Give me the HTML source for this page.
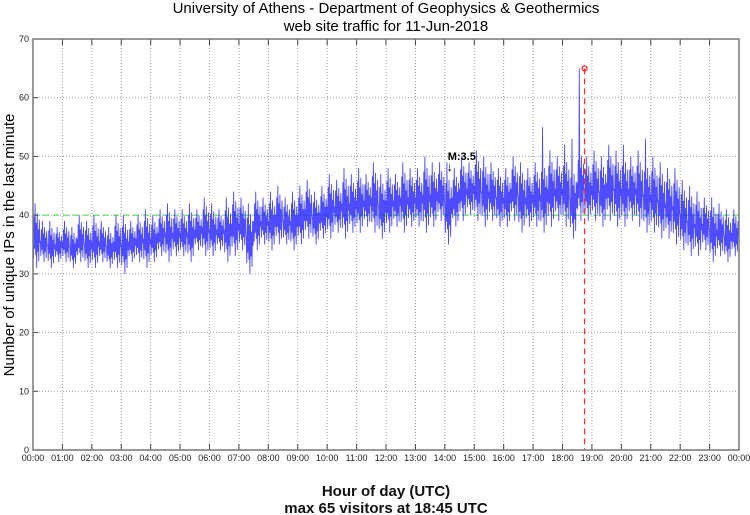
<!DOCTYPE html>
<html><head><meta charset="utf-8">
<style>
html,body{margin:0;padding:0;background:#fff;}
svg{display:block;font-family:"Liberation Sans","DejaVu Sans",sans-serif;}
</style></head>
<body>
<svg id="chart" width="750" height="515" viewBox="0 0 750 515">
<g id="grid"></g>
<g id="series"></g>
<g id="axes"></g>
<text x="386" y="13" text-anchor="middle" font-size="15">University of Athens - Department of Geophysics &amp; Geothermics</text>
<text x="386" y="31" text-anchor="middle" font-size="15">web site traffic for 11-Jun-2018</text>
<text transform="translate(14,245) rotate(-90)" text-anchor="middle" font-size="15">Number of unique IPs in the last minute</text>
<text x="386" y="496" text-anchor="middle" font-size="15" font-weight="bold" fill="#111">Hour of day (UTC)</text>
<text x="386" y="513" text-anchor="middle" font-size="15" font-weight="bold" fill="#111">max 65 visitors at 18:45 UTC</text>
</svg>
<script>
const hourLabels=["00:00","01:00","02:00","03:00","04:00","05:00","06:00","07:00","08:00","09:00","10:00","11:00","12:00","13:00","14:00","15:00","16:00","17:00","18:00","19:00","20:00","21:00","22:00","23:00","00:00"];
const yTicks=[0,10,20,30,40,50,60,70];
const binHigh=[42,39,39,38, 39,38,40,39, 40,39,38,40, 40,39,40,41, 40,41,42,41, 41,42,41,43, 42,41,43,44, 43,42,44,43,
 44,45,43,44, 45,46,44,45, 47,46,48,47, 48,47,49,47, 48,47,49,48, 48,50,49,49, 49,48,50,49, 51,50,49,48,
 48,50,49,48, 49,55,51,50, 52,53,65,50, 51,50,52,51, 52,50,51,53, 50,49,48,48, 46,45,44,43, 43,42,41,41];
const binLow=[31,32,31,32, 32,31,32,31, 31,32,31,31, 30,32,32,31, 32,33,32,33, 33,32,34,33, 33,34,32,33, 34,30,34,35,
 34,35,35,34, 35,36,35,36, 36,37,36,37, 37,38,37,36, 37,38,37,38, 38,37,38,39, 35,38,39,40, 39,38,39,38,
 38,39,37,38, 38,37,38,39, 38,36,39,39, 39,38,39,38, 38,39,38,37, 37,36,36,35, 34,33,33,34, 32,33,32,33];
const maxValue=65, maxMinute=18*60+45;
const refLine=40;
const quake={label:"M:3.5",minute:14*60+10,value:48};

const X0=33,X1=739,Y0=450,Y1=39,YMAX=70;
const xm=m=>X0+(X1-X0)*m/1440;
const yv=v=>Y0-(Y0-Y1)*v/YMAX;
const NS="http://www.w3.org/2000/svg";
function mk(tag,attrs,parent){const e=document.createElementNS(NS,tag);for(const k in attrs)e.setAttribute(k,attrs[k]);parent.appendChild(e);return e;}
const grid=document.getElementById('grid'),axes=document.getElementById('axes'),series=document.getElementById('series');

yTicks.forEach(v=>{
 if(v>0&&v<YMAX){const l=mk('line',{x1:X0,x2:X1,y1:yv(v),y2:yv(v),stroke:'#999','stroke-dasharray':'1,2'},grid);
 
 }
 const t=mk('text',{x:X0-4,y:yv(v)+3,'text-anchor':'end','font-size':9,fill:'#222'},axes);t.textContent=v;
 
 
 const tk=mk('line',{x1:X0,x2:X0+5,y1:yv(v),y2:yv(v),stroke:'#444'},axes);
 
 
});
hourLabels.forEach((h,i)=>{
 const x=xm(i*60);
 if(i>0&&i<24){const l=mk('line',{x1:x,x2:x,y1:Y1,y2:Y0,stroke:'#999','stroke-dasharray':'1,2'},grid);
 
 }
 const t=mk('text',{x:x,y:Y0+11,'text-anchor':'middle','font-size':9,fill:'#222'},axes);t.textContent=h;
 
 
 const a=mk('line',{x1:x,x2:x,y1:Y0,y2:Y0-6,stroke:'#444'},axes);
 
 
 const b=mk('line',{x1:x,x2:x,y1:Y1,y2:Y1+6,stroke:'#444'},axes);
 
 
});
const ref=mk('line',{x1:X0,x2:X1,y1:yv(refLine),y2:yv(refLine),stroke:'#44dd44','stroke-dasharray':'6,4'},grid);



// series: within each 15-min bin, walk between its low and high (one visit to each extreme)
const walk=[0.5,0.15,0.8,0.3,1.0,0.2,0.7,0.0,0.85,0.25,0.6,0.1,0.75,0.4];
let pts=[];const bw=1440/binHigh.length;
binHigh.forEach((hi,i)=>{
 const lo=binLow[i];const m0=i*bw;
 const span=hi-lo;
 walk.forEach((f,s)=>{
  let v=lo+f*span;
  if(f<1&&f>0){v=lo+f*Math.min(span,13);} // interior points stay in the body of the band
  pts.push(xm(m0+bw*s/walk.length).toFixed(2)+','+yv(v).toFixed(2));
 });
});
const pl=mk('polyline',{points:pts.join(' '),fill:'none',stroke:'#2020ff','stroke-width':0.9,'stroke-opacity':0.8},series);



const mx=xm(maxMinute);
const dl=mk('line',{x1:mx,x2:mx,y1:yv(maxValue),y2:Y0,stroke:'#ee3333','stroke-dasharray':'6,4','stroke-width':1.3},series);


const c=mk('circle',{cx:mx,cy:yv(maxValue),r:2.5,fill:'none',stroke:'#ee2222','stroke-width':1.3},series);



const qx=xm(quake.minute);
const qt=mk('text',{x:qx-2,y:yv(quake.value)-8,'font-size':11,'font-weight':'bold',fill:'#000'},series);qt.textContent=quake.label;


const qa=mk('text',{x:qx,y:yv(quake.value)+3,'text-anchor':'middle','font-size':13,fill:'#000'},series);qa.textContent='↓';



const box=mk('rect',{x:X0,y:Y1,width:X1-X0,height:Y0-Y1,fill:'none',stroke:'#777','stroke-width':1.5},axes);


</script>
</body></html>
